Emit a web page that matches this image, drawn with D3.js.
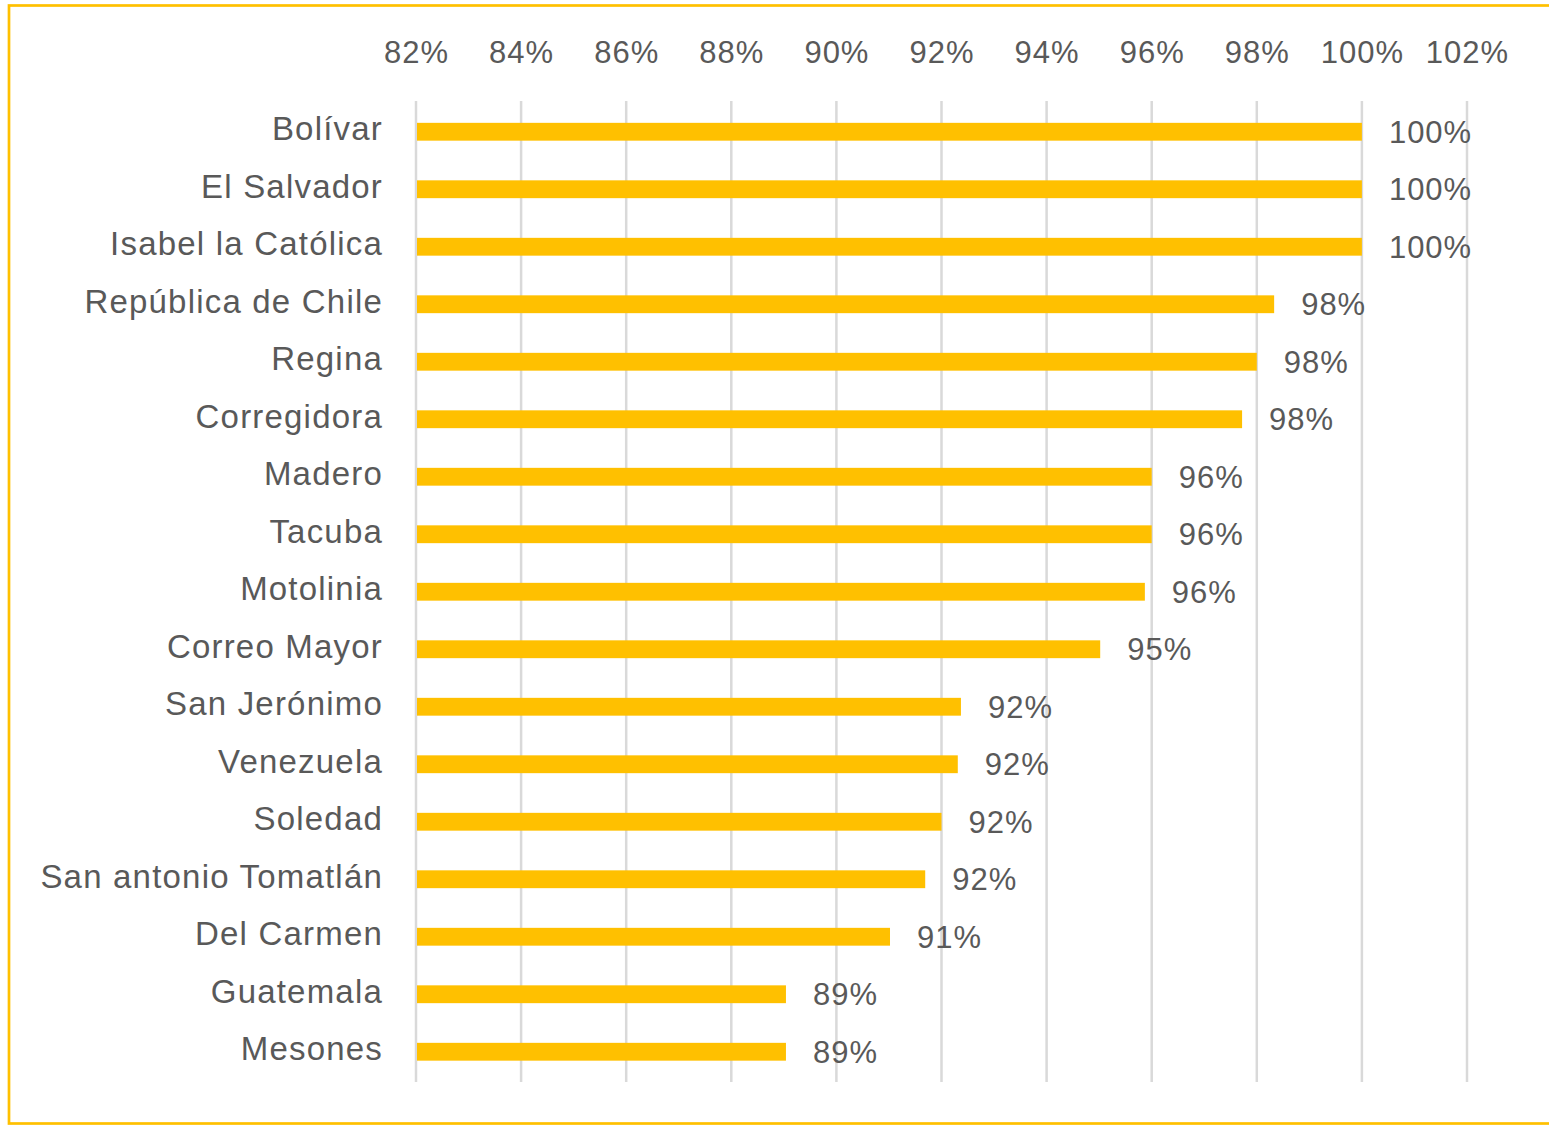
<!DOCTYPE html>
<html><head><meta charset="utf-8">
<script src="https://cdn.jsdelivr.net/npm/d3@7"></script>
<style>body{margin:0;background:#fff;} svg{display:block;}</style>
</head><body>
<script>
const categories = ["Bolívar","El Salvador","Isabel la Católica","República de Chile","Regina","Corregidora","Madero","Tacuba","Motolinia","Correo Mayor","San Jerónimo","Venezuela","Soledad","San antonio Tomatlán","Del Carmen","Guatemala","Mesones"];
const values = [100, 100, 100, 98.33, 98.0, 97.72, 96.0, 96.0, 95.87, 95.02, 92.37, 92.31, 92.0, 91.69, 91.02, 89.04, 89.04];
const tickValues = [82,84,86,88,90,92,94,96,98,100,102];

const W = 1549, H = 1125;
const svg = d3.select("body").append("svg").attr("width", W).attr("height", H);
svg.append("rect").attr("x",9).attr("y",5.5).attr("width",W+10).attr("height",1118)
  .attr("fill","#fff").attr("stroke","#FFC000").attr("stroke-width",2.7);

const x = d3.scaleLinear().domain([82,102]).range([416,1467]);
const y = d3.scaleBand().domain(categories).range([103,1080.5]).paddingInner(0.69).paddingOuter(0.345);
const font = "'Liberation Sans', Arial, sans-serif";
const textColor = "#595959";

// gridlines
svg.append("g").selectAll("line").data(tickValues).join("line")
  .attr("x1", d=>x(d)).attr("x2", d=>x(d)).attr("y1",101).attr("y2",1082)
  .attr("stroke","#d9d9d9").attr("stroke-width", 2.5);

// top tick labels via axis
const ax = svg.append("g").attr("transform","translate(0,63)")
  .call(d3.axisTop(x).tickValues(tickValues).tickSize(0).tickPadding(0).tickFormat(d=>d+"%"));
ax.select(".domain").remove();
ax.selectAll("text").attr("font-family",font).attr("font-size",31).attr("letter-spacing","1px")
  .attr("fill",textColor).attr("dy",0);

// bars
svg.append("g").selectAll("rect").data(values).join("rect")
  .attr("x", x(82)+1).attr("y",(d,i)=>y(categories[i]))
  .attr("width", d=>x(d)-x(82)-1).attr("height", y.bandwidth())
  .attr("fill","#FFC000");

// category labels
svg.append("g").selectAll("text").data(categories).join("text")
  .attr("x",383).attr("y",d=>y(d)+y.bandwidth()/2 - 3).attr("dy","0.35em")
  .attr("text-anchor","end").attr("font-family",font).attr("font-size",33).attr("letter-spacing","1.2px")
  .attr("fill",textColor)
  .text(d=>d);

// value labels
svg.append("g").selectAll("text").data(values).join("text")
  .attr("x",d=>x(d)+27).attr("y",(d,i)=>y(categories[i])+y.bandwidth()/2).attr("dy","0.35em")
  .attr("font-family",font).attr("font-size",31).attr("letter-spacing","1px").attr("fill",textColor)
  .text(d=>Math.round(d)+"%");
</script>
</body></html>
